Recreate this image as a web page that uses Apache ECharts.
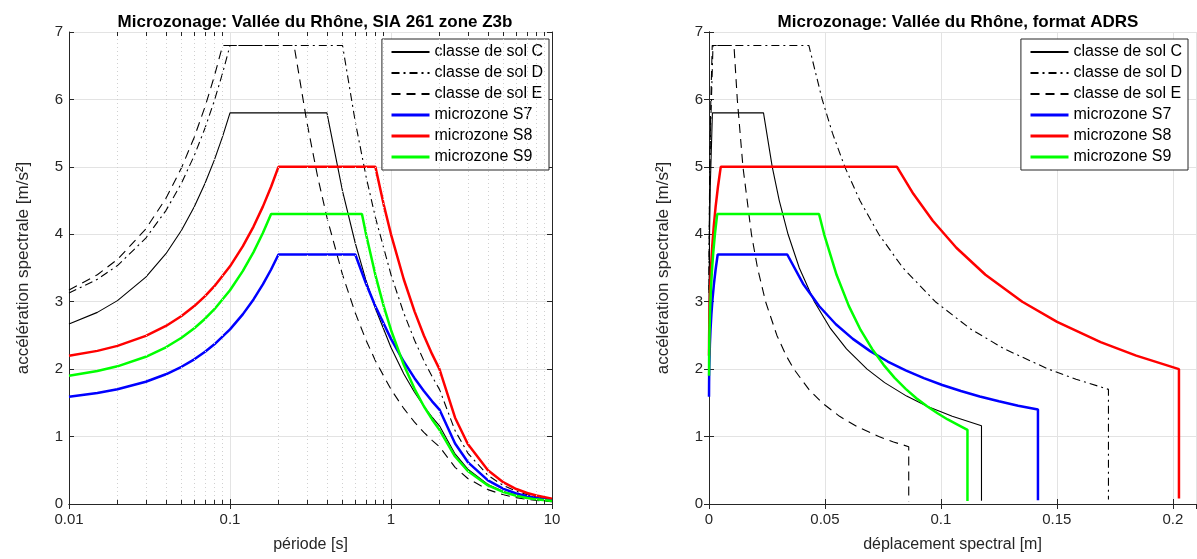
<!DOCTYPE html>
<html>
<head>
<meta charset="utf-8">
<script src="https://cdn.jsdelivr.net/npm/echarts@6/dist/echarts.min.js"></script>
<style>
  html, body { margin: 0; padding: 0; background: #fff; }
  #chart { width: 1197px; height: 559px; }
</style>
</head>
<body>
<div id="chart"></div>
<script>
// --- spectres en format T / Sa (graphique de gauche) ---
var tC = [0.01, 0.015, 0.02, 0.03, 0.04, 0.05, 0.06, 0.07, 0.08, 0.09, 0.1, 0.4, 0.5, 0.6, 0.7, 0.8, 1.0, 1.2, 1.4, 1.6, 1.8, 2.0, 2.5, 3, 4, 5, 6, 7, 8, 10]
var saC = [2.668, 2.842, 3.016, 3.364, 3.712, 4.06, 4.408, 4.756, 5.104, 5.452, 5.8, 5.8, 4.64, 3.867, 3.314, 2.9, 2.32, 1.933, 1.657, 1.45, 1.289, 1.16, 0.742, 0.516, 0.29, 0.186, 0.129, 0.0947, 0.0725, 0.0464]

var tD = [0.01, 0.015, 0.02, 0.03, 0.04, 0.05, 0.06, 0.07, 0.08, 0.09, 0.1, 0.5, 0.6, 0.7, 0.8, 1.0, 1.2, 1.4, 1.6, 1.8, 2.0, 2.5, 3, 4, 5, 6, 7, 8, 10]
var saD = [3.128, 3.332, 3.536, 3.944, 4.352, 4.76, 5.168, 5.576, 5.984, 6.392, 6.8, 6.8, 5.667, 4.857, 4.25, 3.4, 2.833, 2.429, 2.125, 1.889, 1.7, 1.088, 0.756, 0.425, 0.272, 0.189, 0.139, 0.106, 0.068]

var tE = [0.01, 0.015, 0.02, 0.03, 0.04, 0.05, 0.06, 0.07, 0.08, 0.09, 0.25, 0.3, 0.35, 0.4, 0.5, 0.6, 0.7, 0.8, 1.0, 1.2, 1.4, 1.6, 1.8, 2.0, 2.5, 3, 4, 5, 6, 7, 8, 10]
var saE = [3.173, 3.4, 3.627, 4.08, 4.533, 4.987, 5.44, 5.893, 6.347, 6.8, 6.8, 5.667, 4.857, 4.25, 3.4, 2.833, 2.429, 2.125, 1.7, 1.417, 1.214, 1.063, 0.944, 0.85, 0.544, 0.378, 0.213, 0.136, 0.094, 0.069, 0.053, 0.034]

var tS7 = [0.01, 0.015, 0.02, 0.03, 0.04, 0.05, 0.06, 0.07, 0.08, 0.1, 0.12, 0.14, 0.16, 0.18, 0.2, 0.6, 0.7, 0.8, 1.0, 1.2, 1.4, 1.6, 1.8, 2.0, 2.5, 3, 4, 5, 6, 7, 8, 10]
var saS7 = [1.591, 1.647, 1.702, 1.813, 1.924, 2.035, 2.146, 2.257, 2.368, 2.59, 2.812, 3.034, 3.256, 3.478, 3.7, 3.7, 3.267, 2.933, 2.449, 2.113, 1.866, 1.675, 1.523, 1.4, 0.896, 0.622, 0.35, 0.224, 0.156, 0.114, 0.0875, 0.056]

var tS8 = [0.01, 0.015, 0.02, 0.03, 0.04, 0.05, 0.06, 0.07, 0.08, 0.1, 0.12, 0.14, 0.16, 0.18, 0.2, 0.8, 0.9, 1.0, 1.2, 1.4, 1.6, 1.8, 2.0, 2.5, 3, 4, 5, 6, 7, 8, 10]
var saS8 = [2.198, 2.271, 2.345, 2.493, 2.64, 2.788, 2.935, 3.083, 3.23, 3.525, 3.82, 4.115, 4.41, 4.705, 5.0, 5.0, 4.444, 4.0, 3.333, 2.857, 2.5, 2.222, 2.0, 1.28, 0.889, 0.5, 0.32, 0.222, 0.163, 0.125, 0.08]

var tS9 = [0.01, 0.015, 0.02, 0.03, 0.04, 0.05, 0.06, 0.07, 0.08, 0.1, 0.12, 0.14, 0.16, 0.18, 0.66, 0.7, 0.8, 0.9, 1.0, 1.2, 1.4, 1.6, 1.8, 2.0, 2.5, 3, 4, 5, 6, 7, 8, 10]
var saS9 = [1.901, 1.972, 2.042, 2.183, 2.324, 2.466, 2.607, 2.748, 2.889, 3.171, 3.453, 3.736, 4.018, 4.3, 4.3, 4.0, 3.395, 2.938, 2.581, 2.064, 1.708, 1.45, 1.254, 1.1, 0.704, 0.489, 0.275, 0.176, 0.122, 0.0898, 0.0688, 0.044]

// --- format ADRS, Sd / Sa (graphique de droite) ---
var sdC = [0.0000068, 0.0000767, 0.000257, 0.00059, 0.00147, 0.0235, 0.02727, 0.0303, 0.03409, 0.03895, 0.04545, 0.05244, 0.05928, 0.06817, 0.07574, 0.08521, 0.09403, 0.10488, 0.1175, 0.1175]
var adrsC = [2.668, 3.364, 4.06, 4.756, 5.8, 5.8, 5.0, 4.5, 4.0, 3.5, 3.0, 2.6, 2.3, 2.0, 1.8, 1.6, 1.45, 1.3, 1.16, 0.0464]

var sdD = [0.0000079, 0.0000899, 0.000301, 0.000692, 0.00172, 0.04306, 0.0488, 0.05324, 0.05856, 0.06507, 0.07321, 0.08366, 0.09761, 0.11262, 0.12731, 0.14641, 0.15828, 0.17225, 0.17225]
var adrsD = [3.128, 3.944, 4.76, 5.576, 6.8, 6.8, 6.0, 5.5, 5.0, 4.5, 4.0, 3.5, 3.0, 2.6, 2.3, 2.0, 1.85, 1.7, 0.068]

var sdE = [0.000008, 0.000093, 0.000316, 0.000731, 0.0013952, 0.010765, 0.012201, 0.014641, 0.018301, 0.020916, 0.024402, 0.029282, 0.033275, 0.036603, 0.043062, 0.048803, 0.056312, 0.063657, 0.073205, 0.07957, 0.086124, 0.086124]
var adrsE = [3.173, 4.08, 4.987, 5.893, 6.8, 6.8, 6.0, 5.0, 4.0, 3.5, 3.0, 2.5, 2.2, 2.0, 1.7, 1.5, 1.3, 1.15, 1.0, 0.92, 0.85, 0.034]

var sdS7 = [0.000004, 0.0000413, 0.000129, 0.000384, 0.000656, 0.001026, 0.001506, 0.002111, 0.002854, 0.003749, 0.03374, 0.04055, 0.04755, 0.0547, 0.06203, 0.06949, 0.07707, 0.0848, 0.09264, 0.10057, 0.10862, 0.11676, 0.125, 0.13331, 0.14185, 0.14185]
var adrsS7 = [1.591, 1.813, 2.035, 2.368, 2.59, 2.812, 3.034, 3.256, 3.478, 3.7, 3.7, 3.267, 2.933, 2.666, 2.449, 2.267, 2.113, 1.981, 1.866, 1.765, 1.675, 1.595, 1.523, 1.458, 1.4, 0.056]

var sdS8 = [0.0000056, 0.0000568, 0.000177, 0.000524, 0.000893, 0.001393, 0.002043, 0.00286, 0.003861, 0.005066, 0.081058, 0.088107, 0.096498, 0.10666, 0.1192, 0.1351, 0.15011, 0.16887, 0.18422, 0.20265, 0.20265]
var adrsS8 = [2.198, 2.493, 2.788, 3.23, 3.525, 3.82, 4.115, 4.41, 4.705, 5.0, 5.0, 4.6, 4.2, 3.8, 3.4, 3.0, 2.7, 2.4, 2.2, 2.0, 0.08]

var sdS9 = [0.0000048, 0.0000498, 0.000156, 0.000468, 0.000803, 0.00126, 0.001855, 0.002606, 0.003529, 0.047446, 0.049648, 0.055038, 0.060281, 0.065378, 0.070403, 0.075287, 0.080052, 0.084799, 0.089423, 0.094027, 0.098535, 0.10292, 0.10735, 0.11145, 0.11145]
var adrsS9 = [1.901, 2.183, 2.466, 2.889, 3.171, 3.453, 3.736, 4.018, 4.3, 4.3, 4.0, 3.395, 2.938, 2.581, 2.297, 2.064, 1.87, 1.708, 1.569, 1.45, 1.346, 1.254, 1.174, 1.1, 0.044]

var seriesNames = ['classe de sol C', 'classe de sol D', 'classe de sol E', 'microzone S7', 'microzone S8', 'microzone S9']
// positions des lignes de grille secondaires (échelle log)
var minorPeriods = [0.02, 0.03, 0.04, 0.05, 0.06, 0.07, 0.08, 0.09, 0.2, 0.3, 0.4, 0.5, 0.6, 0.7, 0.8, 0.9, 2, 3, 4, 5, 6, 7, 8, 9]

var font = 'Liberation Sans, Arial, Helvetica, sans-serif'
var axisColor = '#262626'
var gridColor = '#e3e3e3'

function pairs (xs, ys) {
    return xs.map(function (x, i) { return [x, ys[i]] })
}

var styles = [
    { color: '#000000', width: 1.1, type: 'solid' },
    { color: '#000000', width: 1.1, type: [8, 4, 2, 4] },
    { color: '#000000', width: 1.1, type: [9, 6] },
    { color: '#0000ff', width: 2.5, type: 'solid' },
    { color: '#ff0000', width: 2.5, type: 'solid' },
    { color: '#00ff00', width: 2.5, type: 'solid' }
]

var leftData = [pairs(tC, saC), pairs(tD, saD), pairs(tE, saE), pairs(tS7, saS7), pairs(tS8, saS8), pairs(tS9, saS9)]
var rightData = [pairs(sdC, adrsC), pairs(sdD, adrsD), pairs(sdE, adrsE), pairs(sdS7, adrsS7), pairs(sdS8, adrsS8), pairs(sdS9, adrsS9)]

function makeSeries (data, xi, yi) {
    return data.map(function (d, i) {
        return {
            name: seriesNames[i],
            type: 'line',
            xAxisIndex: xi,
            yAxisIndex: yi,
            data: d,
            symbol: 'none',
            showSymbol: false,
            legendIcon: 'none',
            animation: false,
            z: 3,
            color: styles[i].color,
            lineStyle: { color: styles[i].color, width: styles[i].width, type: styles[i].type }
        }
    })
}

// grille secondaire + petites graduations pour l'axe log
var minorLines = []
var minorTicks = []
minorPeriods.forEach(function (p) {
    minorLines.push({ xAxis: p })
    minorTicks.push([{ coord: [p, 0] }, { coord: [p, 0.06] }])
    minorTicks.push([{ coord: [p, 7] }, { coord: [p, 6.94] }])
})

var minorSeries = [{
    type: 'line', xAxisIndex: 0, yAxisIndex: 0, data: [], z: 1, silent: true, animation: false,
    markLine: {
        silent: true, symbol: 'none', animation: false, label: { show: false },
        lineStyle: { color: '#d0d0d0', width: 1, type: [1, 3] },
        data: minorLines
    }
}, {
    type: 'line', xAxisIndex: 0, yAxisIndex: 0, data: [], z: 4, silent: true, animation: false,
    markLine: {
        silent: true, symbol: 'none', animation: false, label: { show: false },
        lineStyle: { color: axisColor, width: 1, type: 'solid' },
        data: minorTicks
    }
}]

function xAxisBase (grid, type, min, max, extra) {
    return Object.assign({
        gridIndex: grid, type: type, min: min, max: max,
        axisLine: { show: true, lineStyle: { color: axisColor, width: 1 } },
        axisTick: { show: true, inside: true, length: 5, lineStyle: { color: axisColor } },
        axisLabel: { color: axisColor, fontFamily: font, fontSize: 15, margin: 8 },
        splitLine: { show: true, lineStyle: { color: gridColor, width: 1 } },
        nameLocation: 'middle', nameGap: 33,
        nameTextStyle: { color: axisColor, fontFamily: font, fontSize: 16 }
    }, extra)
}

function yAxisBase (grid, extra) {
    return Object.assign({
        gridIndex: grid, type: 'value', min: 0, max: 7, interval: 1,
        axisLine: { show: true, lineStyle: { color: axisColor, width: 1 } },
        axisTick: { show: true, inside: true, length: 5, lineStyle: { color: axisColor } },
        axisLabel: { color: axisColor, fontFamily: font, fontSize: 15, margin: 6 },
        splitLine: { show: true, lineStyle: { color: gridColor, width: 1 } },
        nameLocation: 'middle', nameRotate: 90, nameGap: 37,
        nameTextStyle: { color: axisColor, fontFamily: font, fontSize: 17 }
    }, extra)
}

var hidden = { axisLabel: { show: false }, splitLine: { show: false }, name: '' }

// entrées de légende : traits plus épais pour les microzones
var legendItems = seriesNames.map(function (n, i) {
    return i < 3 ? { name: n } : { name: n, lineStyle: { width: 3.2 } }
})

function legendBox (pos) {
    return Object.assign({
        data: legendItems, orient: 'vertical', top: 39,
        itemWidth: 38, itemHeight: 14, itemGap: 5,
        padding: [5, 6, 5, 8],
        borderColor: axisColor, borderWidth: 1, backgroundColor: '#ffffff',
        selectedMode: false,
        itemStyle: { opacity: 0 },
        textStyle: { color: '#000', fontFamily: font, fontSize: 16 }
    }, pos)
}

var myChart = echarts.init(document.getElementById('chart'))
var option = {
    backgroundColor: '#ffffff',
    animation: false,
    title: [{
        text: 'Microzonage: Vallée du Rhône, SIA 261 zone Z3b',
        left: 310, top: 9, textAlign: 'center',
        textStyle: { fontFamily: font, fontSize: 17, fontWeight: 'bold', color: '#000' }
    }, {
        text: 'Microzonage: Vallée du Rhône, format ADRS',
        left: 953, top: 9, textAlign: 'center',
        textStyle: { fontFamily: font, fontSize: 17, fontWeight: 'bold', color: '#000' }
    }],
    legend: [legendBox({ right: 648 }), legendBox({ right: 9 })],
    grid: [
        { left: 69, top: 32, width: 483, height: 472 },
        { left: 709, top: 32, width: 487, height: 472 }
    ],
    xAxis: [
        xAxisBase(0, 'log', 0.01, 10, { name: 'période [s]', logBase: 10 }),
        xAxisBase(0, 'log', 0.01, 10, Object.assign({ position: 'top', logBase: 10 }, hidden)),
        xAxisBase(1, 'value', 0, 0.21, { name: 'déplacement spectral [m]', interval: 0.05,
            axisLabel: { color: axisColor, fontFamily: font, fontSize: 15, margin: 8, showMaxLabel: false } }),
        xAxisBase(1, 'value', 0, 0.21, Object.assign({ position: 'top', interval: 0.05 }, hidden))
    ],
    yAxis: [
        yAxisBase(0, { name: 'accélération spectrale [m/s²]' }),
        yAxisBase(0, Object.assign({ position: 'right' }, hidden)),
        yAxisBase(1, { name: 'accélération spectrale [m/s²]' }),
        yAxisBase(1, Object.assign({ position: 'right' }, hidden))
    ],
    series: minorSeries.concat(makeSeries(leftData, 0, 0), makeSeries(rightData, 2, 2))
}
myChart.setOption(option)
</script>
</body>
</html>
